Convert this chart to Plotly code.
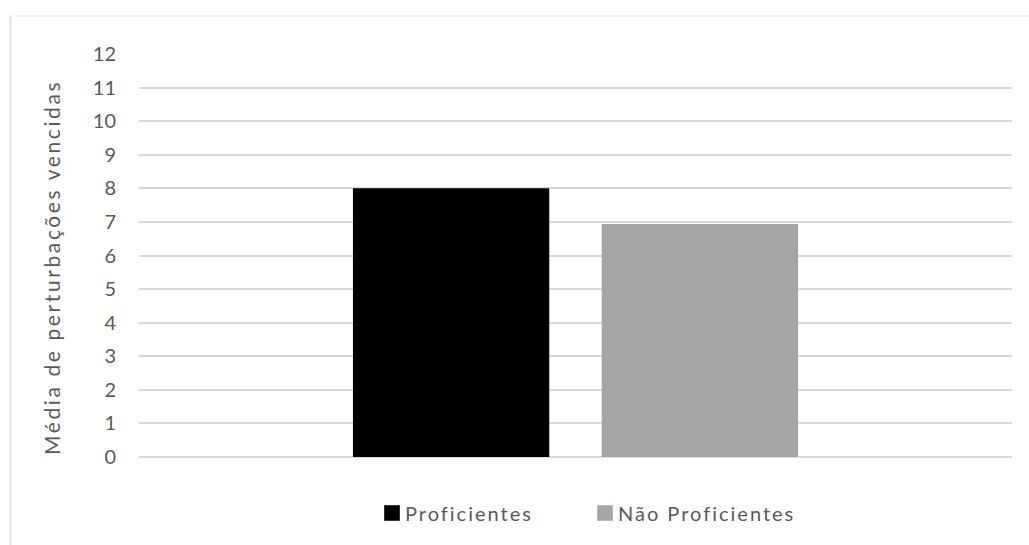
import plotly.graph_objects as go

# Average number of perturbations overcome, by proficiency group
groups = ["Proficientes", "Não Proficientes"]
means = [8.0, 6.94]
bar_colors = ["#000000", "#a5a5a5"]
category = [""]
y_ticks = list(range(0, 13))
y_title = "Média de perturbações vencidas"

TEXT = "#595959"
GRID = "#d9d9d9"
FONT = "Lato"

W, H = 1029, 545
L, R, T, B = 139, 17, 54, 88
pw, ph = W - L - R, H - T - B


def px_x(x):
    return (x - L) / pw


def px_y(y):
    return (H - B - y) / ph


fig = go.Figure()
for name, val, col in zip(groups, means, bar_colors):
    fig.add_trace(go.Bar(
        x=category, y=[val], name=name,
        marker=dict(color=col, line=dict(width=0)),
        hoverinfo="y+name",
    ))

# chart-area frame (left and top edges visible)
fig.add_shape(type="line", xref="paper", yref="paper",
              x0=px_x(10.5), x1=px_x(10.5), y0=px_y(16), y1=px_y(H + 10),
              line=dict(color="#d9d9d9", width=1.5))
fig.add_shape(type="line", xref="paper", yref="paper",
              x0=px_x(10), x1=px_x(W + 10), y0=px_y(16), y1=px_y(16),
              line=dict(color="#eeeeee", width=1.2))

# vertical axis title
fig.add_annotation(
    text=y_title, textangle=-90, showarrow=False,
    xref="paper", yref="paper", x=px_x(51), y=px_y(268),
    xanchor="center", yanchor="middle",
    font=dict(family=FONT, size=21, color=TEXT),
)

fig.update_layout(
    width=W, height=H,
    margin=dict(l=L, r=R, t=T, b=B, autoexpand=False),
    paper_bgcolor="white", plot_bgcolor="white",
    font=dict(family=FONT, color=TEXT, size=20),
    barmode="group", bargap=0.43, bargroupgap=0.211,
    showlegend=True,
    legend=dict(
        orientation="h", x=px_x(365), xanchor="left",
        y=px_y(513), yanchor="middle",
        font=dict(family=FONT, size=20, color=TEXT),
        entrywidth=168, entrywidthmode="pixels",
        bgcolor="rgba(0,0,0,0)", borderwidth=0,
        traceorder="normal",
    ),
    xaxis=dict(
        showticklabels=False, showgrid=False, zeroline=False,
        showline=False, ticks="", fixedrange=True,
    ),
    yaxis=dict(
        range=[0, 12], tickvals=y_ticks, ticktext=[str(v) for v in y_ticks],
        showgrid=True, gridcolor=GRID, gridwidth=1.5,
        zeroline=True, zerolinecolor=GRID, zerolinewidth=1.5,
        showline=False, ticks="", ticklabelstandoff=22,
        tickfont=dict(family=FONT, size=20, color=TEXT),
        automargin=False, fixedrange=True,
    ),
)

# wider letter spacing for the title and legend labels,
# larger legend swatches placed closer to their labels
spacing_js = """
var gd = document.getElementById('{plot_id}');
function styleText() {
  gd.querySelectorAll('.legendtext').forEach(function (t) { t.style.letterSpacing = '2px'; });
  gd.querySelectorAll('.annotation-text').forEach(function (t) { t.style.letterSpacing = '2.6px'; });
  gd.querySelectorAll('.legend .scrollbox').forEach(function (s) { s.removeAttribute('clip-path'); });
  gd.querySelectorAll('.legendpoints path').forEach(function (p) {
    p.setAttribute('transform', 'translate(27,0) scale(1.3)');
  });
}
styleText();
gd.on('plotly_afterplot', styleText);
"""

fig.write_html("out.html", post_script=spacing_js, config={"displayModeBar": False})
